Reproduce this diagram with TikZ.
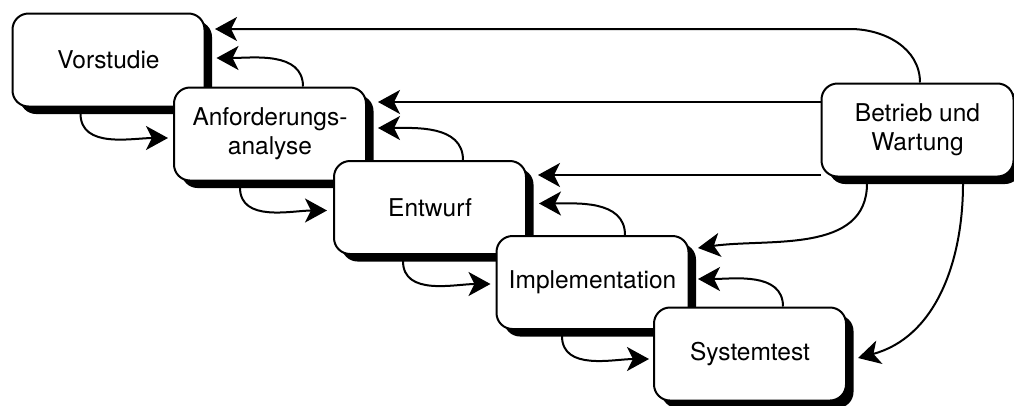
\documentclass[tikz,border=0pt]{standalone}
\usepackage{fontspec}
\setmainfont{TeX Gyre Heros}
\usetikzlibrary{arrows.meta,shadows,backgrounds}

\begin{document}
\begin{tikzpicture}[x=1pt,y=1pt,
  phase/.style={draw, line width=2pt, fill=white, rounded corners=16pt,
    minimum width=192pt, minimum height=93pt, inner sep=0pt, align=center,
    font=\fontsize{24.5}{29}\selectfont,
    drop shadow={shadow xshift=7.5pt, shadow yshift=-7.5pt, opacity=1, fill=black}},
  flow/.style={line width=2pt, -{Stealth[length=22pt,width=24pt,inset=6pt]}}]

  \useasboundingbox (0,0) rectangle (1014,-405);

  % phases of the waterfall model
  \node[phase] (vor) at (108.5,-60)  {Vorstudie};
  \node[phase] (anf) at (270,-134)   {Anforderungs-\\analyse};
  \node[phase] (ent) at (430,-207.5) {Entwurf};
  \node[phase] (imp) at (592.5,-282.5) {Implementation};
  \node[phase] (sys) at (750,-354)   {Systemtest};
  \node[phase] (bet) at (917.5,-130) {Betrieb und\\Wartung};

  \begin{scope}[on background layer]
    % forward steps
    \draw[flow] ([xshift=-28pt,yshift=-6pt]vor.south) to[out=-90,in=180] ([xshift=-5pt,yshift=-4pt]anf.west);
    \draw[flow] ([xshift=-30pt,yshift=-6pt]anf.south) to[out=-90,in=180] ([xshift=-6pt,yshift=-3pt]ent.west);
    \draw[flow] ([xshift=-27pt,yshift=-6pt]ent.south) to[out=-90,in=180] ([xshift=-5pt,yshift=-1.5pt]imp.west);
    \draw[flow] ([xshift=-30.5pt,yshift=-6pt]imp.south) to[out=-90,in=180] ([xshift=-4pt,yshift=-5pt]sys.west);

    % feedback to the previous phase
    \draw[flow] ([xshift=33pt]anf.north) to[out=90,in=0] ([xshift=11pt,yshift=2pt]vor.east);
    \draw[flow] ([xshift=33pt]ent.north) to[out=90,in=0] ([xshift=11pt,yshift=6pt]anf.east);
    \draw[flow] ([xshift=32.5pt]imp.north) to[out=90,in=0] ([xshift=12pt,yshift=4pt]ent.east);
    \draw[flow] ([xshift=33pt]sys.north) to[out=90,in=0] ([xshift=8.5pt,yshift=3.5pt]imp.east);

    % feedback from operation and maintenance
    \draw[flow] ([xshift=2.5pt]bet.north) to[out=90,in=0] ([xshift=-67.5pt,yshift=53.5pt]bet.north)
      -- ([xshift=9.5pt,yshift=31pt]vor.east);
    \draw[flow] ([yshift=28pt]bet.west) -- ([xshift=11pt,yshift=32pt]anf.east);
    \draw[flow] ([yshift=-45pt]bet.west) -- ([xshift=11pt,yshift=32.5pt]ent.east);
    \draw[flow] ([xshift=-50.5pt,yshift=-6pt]bet.south) to[out=-90,in=8] ([xshift=8.5pt,yshift=34.5pt]imp.east);
    \draw[flow] ([xshift=45.5pt,yshift=-6pt]bet.south) to[out=-90,in=15] ([xshift=11pt,yshift=-4pt]sys.east);
  \end{scope}
\end{tikzpicture}
\end{document}
